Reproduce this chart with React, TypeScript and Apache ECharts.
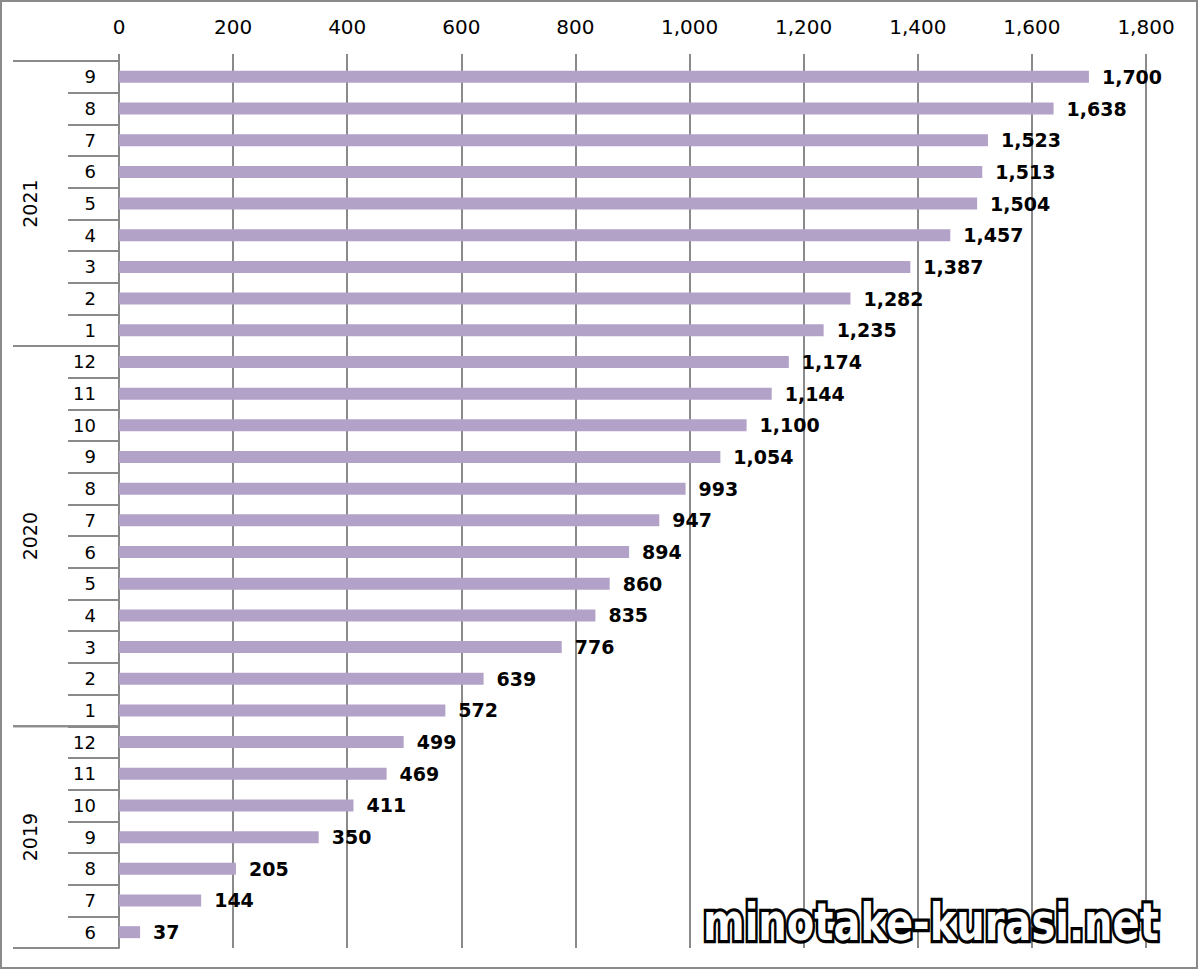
import React, { useEffect, useRef } from "react";
import * as echarts from "echarts";

const categories = [
  "2019-6", "2019-7", "2019-8", "2019-9", "2019-10", "2019-11", "2019-12",
  "2020-1", "2020-2", "2020-3", "2020-4", "2020-5", "2020-6", "2020-7", "2020-8", "2020-9", "2020-10", "2020-11", "2020-12",
  "2021-1", "2021-2", "2021-3", "2021-4", "2021-5", "2021-6", "2021-7", "2021-8", "2021-9",
];
const values = [
  37, 144, 205, 350, 411, 469, 499,
  572, 639, 776, 835, 860, 894, 947, 993, 1054, 1100, 1144, 1174,
  1235, 1282, 1387, 1457, 1504, 1513, 1523, 1638, 1700,
];
const years = ["2019", "2020", "2021"];
const xTicks = { min: 0, max: 1800, interval: 200 };
const watermark = "minotake-kurasi.net";

const FONT = "'DejaVu Sans', Verdana, sans-serif";
const LINE = "#8a8a8a";

export default function App() {
  const ref = useRef<HTMLDivElement>(null);
  useEffect(() => {
    document.body.style.margin = "0";
    const chart = echarts.init(ref.current!, null, { renderer: "svg" });
    const fmt = (v: number) => Number(v).toLocaleString("en-US");
    chart.setOption({
      animation: false,
      backgroundColor: "#ffffff",
      grid: { left: 119, right: 54, top: 61, bottom: 24, containLabel: false },
      xAxis: {
        type: "value",
        position: "top",
        min: xTicks.min,
        max: xTicks.max,
        interval: xTicks.interval,
        axisLine: { show: false },
        axisTick: { show: true, length: 7, lineStyle: { color: LINE, width: 2 } },
        splitLine: { show: true, lineStyle: { color: LINE, width: 2 } },
        axisLabel: { formatter: fmt, fontSize: 20, color: "#000", fontFamily: FONT, margin: 24 },
      },
      yAxis: {
        type: "category",
        data: categories,
        axisLine: { show: true, lineStyle: { color: LINE, width: 2 } },
        axisTick: { show: true, length: 51, lineStyle: { color: LINE, width: 2 } },
        axisLabel: {
          formatter: (v: string) => v.split("-")[1],
          fontSize: 18,
          color: "#000",
          fontFamily: FONT,
          margin: 23,
        },
      },
      series: [
        {
          type: "bar",
          data: values,
          barWidth: 12,
          itemStyle: { color: "#B3A2C8" },
          label: {
            show: true,
            position: "right",
            distance: 13,
            formatter: (p: any) => fmt(p.value),
            fontSize: 19,
            fontWeight: "bold",
            color: "#000",
            fontFamily: FONT,
          },
        },
      ],
    });

    const py = (c: string) => chart.convertToPixel({ yAxisIndex: 0 }, c) as number;
    const band = py(categories[0]) - py(categories[1]);
    const xAxisPx = chart.convertToPixel({ xAxisIndex: 0 }, 0) as number;
    const graphics: any[] = [
      {
        type: "rect",
        shape: { x: 1, y: 1, width: 1196, height: 967 },
        style: { fill: "none", stroke: LINE, lineWidth: 2 },
        z: 100,
      },
    ];
    years.forEach((yr) => {
      const idx = categories.map((c, i) => (c.startsWith(yr + "-") ? i : -1)).filter((i) => i >= 0);
      const first = idx[0];
      const last = idx[idx.length - 1];
      const bottom = py(categories[first]) + band / 2;
      const top = py(categories[last]) - band / 2;
      [top, bottom].forEach((y) => {
        graphics.push({
          type: "line",
          shape: { x1: 13, y1: y, x2: xAxisPx, y2: y },
          style: { stroke: LINE, lineWidth: 2 },
          z: 50,
        });
      });
      graphics.push({
        type: "text",
        x: 30,
        y: (top + bottom) / 2,
        rotation: Math.PI / 2,
        style: {
          text: yr,
          fontSize: 19,
          fontFamily: FONT,
          fill: "#000",
          align: "center",
          verticalAlign: "middle",
        },
        z: 50,
      });
    });
    const wmStyle = {
      text: watermark,
      fontSize: 40,
      fontWeight: "bold",
      fontFamily: FONT,
      align: "left",
      verticalAlign: "bottom",
    };
    graphics.push({
      type: "text",
      x: 703,
      y: 948,
      scaleY: 1.3,
      style: { ...wmStyle, fill: "#000000", stroke: "#000000", lineWidth: 5 },
      z: 200,
    });
    graphics.push({
      type: "text",
      x: 703,
      y: 948,
      scaleY: 1.3,
      style: { ...wmStyle, fill: "#ffffff" },
      z: 201,
    });
    chart.setOption({ graphic: graphics });
    return () => chart.dispose();
  }, []);
  return <div ref={ref} style={{ position: "absolute", left: 0, top: 0, width: 1200, height: 972 }} />;
}
